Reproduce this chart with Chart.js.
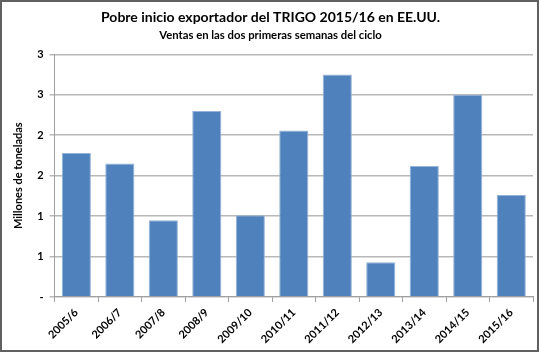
<!DOCTYPE html>
<html lang="es">
<head>
<meta charset="UTF-8">
<title>Pobre inicio exportador del TRIGO 2015/16 en EE.UU.</title>
<style>
    html, body { margin: 0; padding: 0; background: #fff; }
    #box {
        width: 539px; height: 352px; box-sizing: border-box;
        border: 2px solid #606060; position: relative;
    }
    #box canvas { display: block; }
</style>
</head>
<body>
<div id="box"><canvas id="chart" width="535" height="348"></canvas></div>

<script src="https://cdn.jsdelivr.net/npm/chart.js"></script>
<script>
    // campañas y ventas (millones de toneladas)
    const campanas = ['2005/6', '2006/7', '2007/8', '2008/9', '2009/10', '2010/11',
                      '2011/12', '2012/13', '2013/14', '2014/15', '2015/16'];
    const ventas = [1.78, 1.65, 0.95, 2.30, 1.01, 2.06, 2.75, 0.43, 1.62, 2.50, 1.26];
    // etiquetas del eje Y tal como salen en Excel (0 decimales)
    const yTickLabels = ['-', '1', '1', '2', '2', '3', '3'];

    const fuente = 'Lato, "Open Sans", sans-serif';

    new Chart(document.getElementById('chart'), {
        type: 'bar',
        data: {
            labels: campanas,
            datasets: [{
                data: ventas,
                backgroundColor: '#4f81bd',
                borderColor: '#95b3d7',
                borderWidth: 1,
                barPercentage: 0.67,
                categoryPercentage: 1
            }]
        },
        options: {
            responsive: false,
            animation: false,
            layout: { padding: { left: 6, right: 4, top: 0, bottom: 0 } },
            plugins: {
                legend: { display: false },
                tooltip: { enabled: false },
                title: {
                    display: true,
                    text: 'Pobre inicio exportador del TRIGO 2015/16 en EE.UU.',
                    color: '#000',
                    font: { family: fuente, size: 14, weight: 'bold' },
                    padding: { top: 7, bottom: 3 }
                },
                subtitle: {
                    display: true,
                    text: 'Ventas en las dos primeras semanas del ciclo',
                    color: '#000',
                    font: { family: fuente, size: 11.3, weight: 'bold' },
                    padding: { top: 0, bottom: 12 }
                }
            },
            scales: {
                x: {
                    grid: { offset: true, drawOnChartArea: false, drawTicks: true, tickLength: 5, color: '#a0a0a0' },
                    border: { color: '#a0a0a0', width: 1 },
                    ticks: {
                        color: '#000', minRotation: 45, maxRotation: 45, padding: 4,
                        font: { family: fuente, size: 11, weight: 'bold' }
                    }
                },
                y: {
                    min: 0, max: 3,
                    grid: { color: '#b8b8b8', lineWidth: 1.5, tickLength: 5 },
                    border: { color: '#a0a0a0', width: 1 },
                    ticks: {
                        stepSize: 0.5, color: '#000', padding: 6,
                        font: { family: fuente, size: 11, weight: 'bold' },
                        callback: (v, i) => yTickLabels[i]
                    },
                    title: {
                        display: true, text: 'Millones de toneladas', color: '#000',
                        font: { family: fuente, size: 11, weight: 'bold' }, padding: { bottom: 6 }
                    }
                }
            }
        }
    });
</script>
</body>
</html>
